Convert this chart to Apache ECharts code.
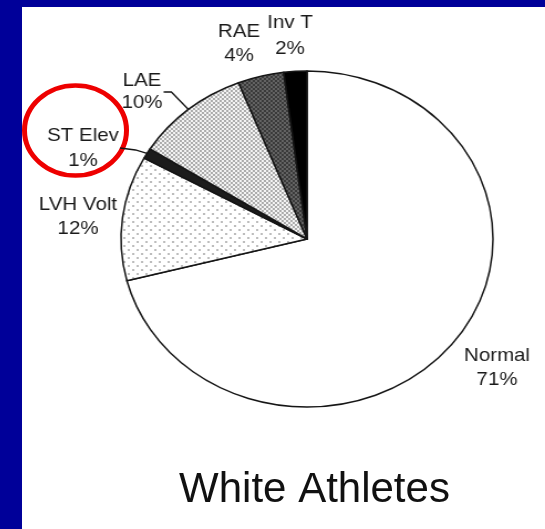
<!DOCTYPE html>
<html><head><meta charset="utf-8">
<script src="https://cdn.jsdelivr.net/npm/echarts@6/dist/echarts.min.js"></script>
<style>
html,body{margin:0;padding:0;width:545px;height:529px;overflow:hidden;background:#000099}
#bg,#pie{position:absolute;left:0;top:0;width:545px;height:529px}
#pie{transform:scaleX(1.107);transform-origin:307px 239px}
</style></head><body>
<div id="bg"></div><div id="pie"></div>
<script>
// ---- data ----
const categories = ['Normal', 'LVH Volt', 'ST Elev', 'LAE', 'RAE', 'Inv T'];
const percents = [71, 12, 1, 10, 4, 2];
const chartTitle = 'White Athletes';

// ---- layout ----
const CX = 307, CY = 239, R = 168, K = 1.107;
const labelPos = { // screen centre of each label block
  'Normal': [497, 368], 'LVH Volt': [78, 217], 'ST Elev': [83, 148],
  'LAE': [142, 92], 'RAE': [239, 44], 'Inv T': [290, 36]
};
const labelLH = { 'Inv T': 26, 'ST Elev': 25, 'LAE': 22 };
const withLine = { 'LAE': true, 'ST Elev': true };
function toLocalX(X) { return CX + (X - CX) / K; }

function pattern(size, bg, dots, dotColor, r) {
  const c = document.createElement('canvas'); c.width = c.height = size;
  const g = c.getContext('2d'); g.fillStyle = bg; g.fillRect(0, 0, size, size);
  g.fillStyle = dotColor;
  dots.forEach(([x, y]) => { g.beginPath(); g.arc(x, y, r, 0, Math.PI * 2); g.fill(); });
  return { image: c, repeat: 'repeat' };
}
const fills = {
  'Normal': '#ffffff',
  'LVH Volt': pattern(8, '#ffffff', [[2, 2], [6, 6]], '#6a6a6a', 0.8),
  'ST Elev': '#1c1c1c',
  'LAE': pattern(4, '#f4f4f4', [[1, 1], [3, 3]], '#8a8a8a', 0.9),
  'RAE': pattern(4, '#3a3a3a', [[1, 1], [3, 3]], '#9a9a9a', 0.8),
  'Inv T': '#000000'
};

// ---- background / title / annotation ----
const bg = echarts.init(document.getElementById('bg'), null, { renderer: 'canvas' });
bg.setOption({
  backgroundColor: '#000099',
  animation: false,
  graphic: [
    { type: 'rect', shape: { x: 22, y: 7, width: 523, height: 522 }, style: { fill: '#ffffff' } },
    { type: 'circle', x: 75.5, y: 130.5, scaleY: 45 / 51, shape: { cx: 0, cy: 0, r: 51 },
      style: { fill: 'none', stroke: '#ee0000', lineWidth: 5, strokeNoScale: true } },
    { type: 'text', x: 314.5, y: 490.5,
      style: { text: chartTitle, fill: '#111111', font: '42px "Liberation Sans", Arial, sans-serif',
               textAlign: 'center', textVerticalAlign: 'middle' } }
  ]
});

// ---- pie (stretched horizontally into an ellipse) ----
const pie = echarts.init(document.getElementById('pie'), null, { renderer: 'canvas' });
pie.setOption({
  animation: false,
  series: [{
    type: 'pie',
    center: [CX, CY],
    radius: R,
    startAngle: 90,
    clockwise: true,
    avoidLabelOverlap: false,
    emphasis: { disabled: true },
    itemStyle: { borderColor: '#151515', borderWidth: 1.5 },
    label: {
      show: true, formatter: '{b}\n{c}%', color: '#1a1a1a', fontSize: 18.5, lineHeight: 24,
      fontFamily: '"Liberation Sans", Arial, sans-serif', align: 'center'
    },
    labelLine: { show: true, length: 10, length2: 10, lineStyle: { color: '#151515', width: 1.3 } },
    labelLayout: function (p) {
      const name = categories[p.dataIndex];
      const pos = labelPos[name];
      const x = toLocalX(pos[0]), y = pos[1];
      const res = { x: x, y: y, align: 'center', verticalAlign: 'middle' };
      if (withLine[name]) {
        const w = p.labelRect.width / 2;
        const p0 = (p.labelLinePoints && p.labelLinePoints[0]) || [CX, CY - R];
        const end = [x + w + 1, y];
        const mid = name === 'LAE' ? [end[0] + 7, y] : [end[0] + 14, y + 2];
        res.labelLinePoints = [p0, mid, end];
      }
      return res;
    },
    data: categories.map((n, i) => ({
      name: n, value: percents[i],
      itemStyle: { color: fills[n] },
      label: labelLH[n] ? { lineHeight: labelLH[n] } : undefined,
      labelLine: { show: !!withLine[n] }
    }))
  }]
});
</script></body></html>
